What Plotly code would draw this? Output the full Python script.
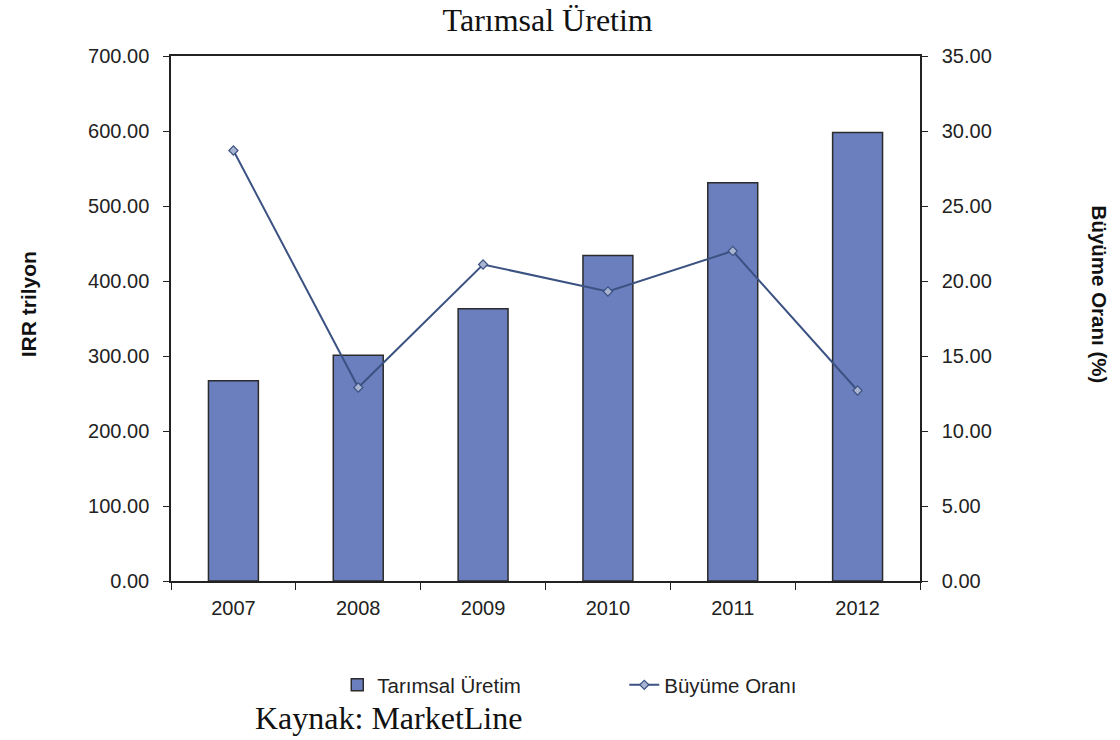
import plotly.graph_objects as go

years = ["2007", "2008", "2009", "2010", "2011", "2012"]
production = [267, 301, 363, 434, 531, 598]
growth = [28.7, 12.9, 21.1, 19.3, 22.0, 12.7]
left_ticks = [0, 100, 200, 300, 400, 500, 600, 700]
right_ticks = [0, 5, 10, 15, 20, 25, 30, 35]

fig = go.Figure()
fig.add_trace(go.Bar(
    x=years, y=production, name="Tarımsal Üretim",
    marker=dict(color="#6b7fbf", line=dict(color="#2b2b2b", width=1.5)),
    width=0.4,
))
fig.add_trace(go.Scatter(
    x=years, y=growth, name="Büyüme Oranı", yaxis="y2",
    mode="lines+markers",
    line=dict(color="#3b5282", width=2),
    marker=dict(symbol="diamond", size=7, color="#a9b4d0",
                line=dict(color="#3b5282", width=1.2)),
))

sans = "Liberation Sans, Arial, sans-serif"
serif = "Liberation Serif, Times New Roman, serif"
tickfont = dict(family=sans, size=20, color="#222222")
axcol = "#222222"

fig.update_layout(
    width=1120, height=740,
    margin=dict(l=171, r=200, t=56, b=159),
    paper_bgcolor="white", plot_bgcolor="white",
    title=dict(text="Tarımsal Üretim", x=0.489, xanchor="center", y=0.973, yanchor="middle",
               font=dict(family=serif, size=32, color="#111111")),
    xaxis=dict(type="category", showline=True, linecolor=axcol, linewidth=1.5,
               mirror=True, ticks="outside", tickson="boundaries", ticklen=7,
               tickcolor=axcol, tickfont=tickfont, ticklabelstandoff=8,
               showgrid=False, zeroline=False),
    yaxis=dict(range=[0, 700], tickvals=left_ticks, tickformat=".2f",
               showline=True, linecolor=axcol, linewidth=1.5, ticks="outside",
               ticklen=6, tickcolor=axcol, tickfont=tickfont, ticklabelstandoff=10,
               showgrid=False, zeroline=False),
    yaxis2=dict(range=[0, 35], tickvals=right_ticks, tickformat=".2f", overlaying="y",
                side="right", showline=True, linecolor=axcol, linewidth=1.5,
                ticks="outside", ticklen=6, tickcolor=axcol, tickfont=tickfont,
                ticklabelstandoff=10, showgrid=False, zeroline=False),
    legend=dict(orientation="h", x=0.222, xanchor="left", y=-0.198, yanchor="middle",
                entrywidth=242, font=dict(family=sans, size=20.5, color="#222222")),
    showlegend=True,
    annotations=[
        dict(text="<b>IRR trilyon</b>", textangle=-90, xref="paper", yref="paper",
             x=-0.191, y=0.527, xanchor="center", yanchor="middle", showarrow=False,
             font=dict(family=sans, size=21, color="#111111")),
        dict(text="<b>Büyüme Oranı (%)</b>", textangle=90, xref="paper", yref="paper",
             x=1.240, y=0.546, xanchor="center", yanchor="middle", showarrow=False,
             font=dict(family=sans, size=20.5, color="#111111")),
        dict(text="Kaynak: MarketLine", xref="paper", yref="paper",
             x=0.109, y=-0.261, xanchor="left", yanchor="middle", showarrow=False,
             font=dict(family=serif, size=32, color="#111111")),
    ],
)

fig.write_html("out.html", config={"displayModeBar": False},
               post_script="document.body.style.margin='0';")
